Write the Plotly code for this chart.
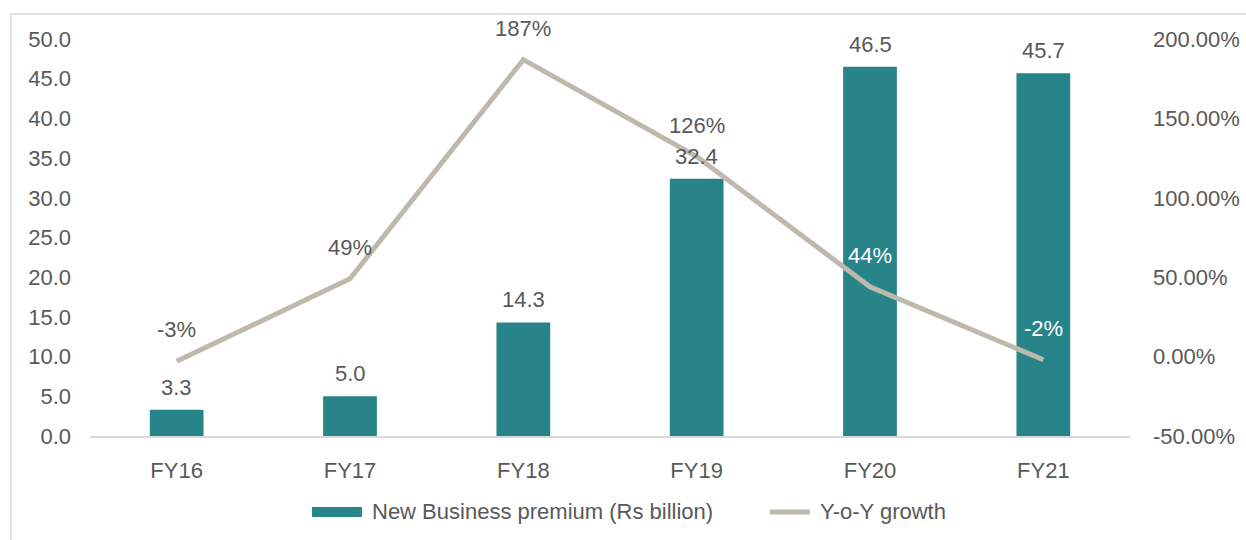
import plotly.graph_objects as go

# Fiscal years and series
years = ["FY16", "FY17", "FY18", "FY19", "FY20", "FY21"]
premium = [3.3, 5.0, 14.3, 32.4, 46.5, 45.7]          # Rs billion
growth = [-0.03, 0.49, 1.87, 1.26, 0.44, -0.02]         # Y-o-Y growth
growth_label_colors = ["#595959", "#595959", "#595959", "#595959", "#FFFFFF", "#FFFFFF"]

# Axis ticks
left_ticks = [0, 5, 10, 15, 20, 25, 30, 35, 40, 45, 50]
right_ticks = [-0.5, 0.0, 0.5, 1.0, 1.5, 2.0]

BAR_NAME = "New Business premium (Rs billion)"
LINE_NAME = "Y-o-Y growth"

TEAL = "#27858A"
LINE = "#BFB8AD"
TEXT = "#595959"
FONT = "Liberation Sans, Arial, sans-serif"
FS = 22

fig = go.Figure()

fig.add_trace(go.Bar(
    x=years, y=premium, name=BAR_NAME,
    marker=dict(color=TEAL, line=dict(width=0)), width=0.31, yaxis="y",
))

fig.add_trace(go.Scatter(
    x=years, y=growth, name=LINE_NAME, mode="lines",
    line=dict(color=LINE, width=5), yaxis="y2",
))

# Value labels above bars
for x, v in zip(years, premium):
    fig.add_annotation(x=x, y=v, yref="y", text=f"{v:.1f}", showarrow=False,
                       yanchor="bottom", yshift=8,
                       font=dict(size=FS, color=TEXT, family=FONT))

# Growth labels above line points
for x, g, c in zip(years, growth, growth_label_colors):
    fig.add_annotation(x=x, y=g, yref="y2", text=f"{g*100:.0f}%", showarrow=False,
                       yanchor="bottom", yshift=17,
                       font=dict(size=FS, color=c, family=FONT))

# Outer chart border
fig.add_shape(type="rect", xref="paper", yref="paper",
              x0=-0.076, x1=1.2, y0=-0.3, y1=1.063,
              line=dict(color="#D9D9D9", width=1.5), layer="below")

# Legend drawn below the plot: wide swatch for the bars, short stroke for the line
LEG_Y = -0.1914
fig.add_shape(type="rect", xref="paper", yref="paper",
              x0=0.2135, x1=0.2615, y0=-0.204, y1=-0.179,
              fillcolor=TEAL, line=dict(width=0))
fig.add_annotation(xref="paper", yref="paper", x=0.2692, y=LEG_Y, text=BAR_NAME,
                   showarrow=False, xanchor="left", yanchor="middle",
                   font=dict(size=FS, color=TEXT, family=FONT))
fig.add_shape(type="line", xref="paper", yref="paper",
              x0=0.6538, x1=0.6923, y0=LEG_Y, y1=LEG_Y,
              line=dict(color=LINE, width=5))
fig.add_annotation(xref="paper", yref="paper", x=0.70, y=LEG_Y, text=LINE_NAME,
                   showarrow=False, xanchor="left", yanchor="middle",
                   font=dict(size=FS, color=TEXT, family=FONT))

fig.update_layout(
    width=1246, height=540,
    margin=dict(l=90, r=116, t=39, b=104),
    paper_bgcolor="white", plot_bgcolor="white",
    font=dict(family=FONT, size=FS, color=TEXT),
    showlegend=False,
    xaxis=dict(showgrid=False, showline=True, linecolor="#D9D9D9", linewidth=1.5,
               ticks="", tickfont=dict(size=FS, color=TEXT), ticklabelstandoff=14,
               automargin=False),
    yaxis=dict(range=[0, 50], tickvals=left_ticks,
               ticktext=[f"{t:.1f}" for t in left_ticks], showgrid=False,
               zeroline=False, showline=False, ticks="", automargin=False,
               tickfont=dict(size=FS, color=TEXT), ticklabelstandoff=18),
    yaxis2=dict(range=[-0.5, 2.0], tickvals=right_ticks,
                ticktext=[f"{t*100:.2f}%" for t in right_ticks], overlaying="y",
                side="right", showgrid=False, zeroline=False, showline=False,
                ticks="", automargin=False,
                tickfont=dict(size=FS, color=TEXT), ticklabelstandoff=22),
)

fig.write_html("out.html")
